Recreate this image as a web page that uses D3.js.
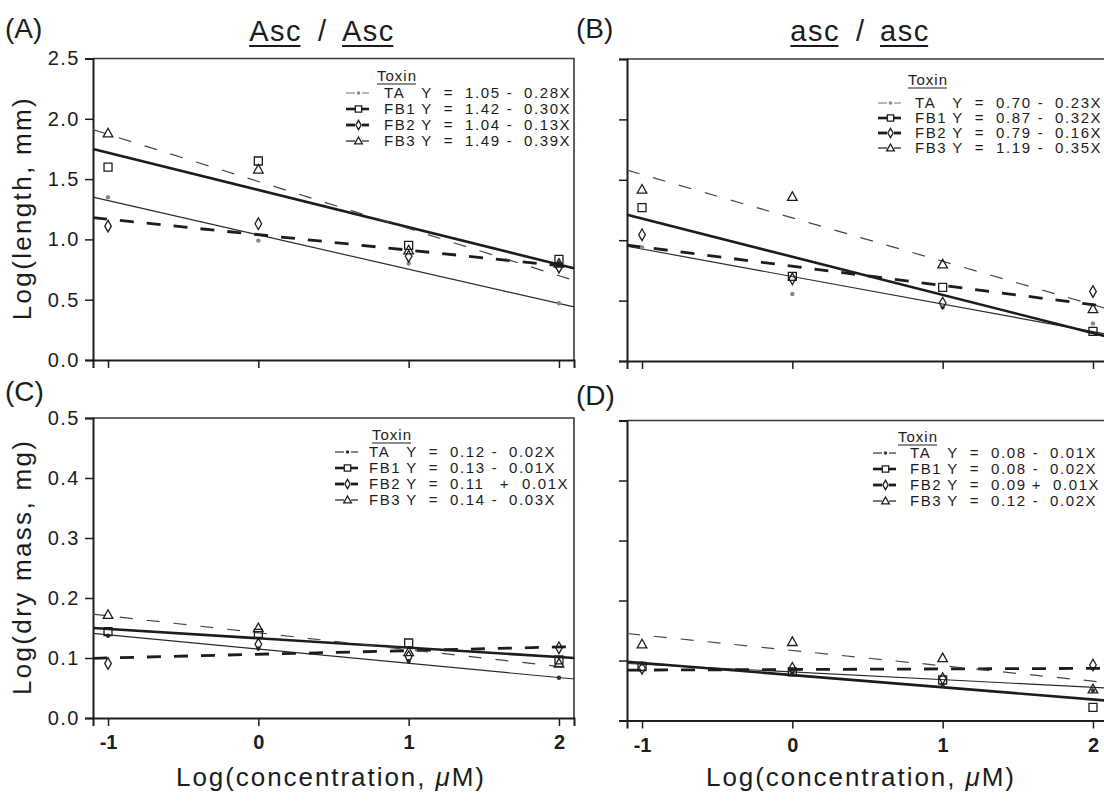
<!DOCTYPE html>
<html><head><meta charset="utf-8">
<script src="https://cdn.jsdelivr.net/npm/d3@7"></script>
<style>
html,body{margin:0;padding:0;background:#fff;}
svg{display:block;font-family:"Liberation Sans",Arial,Helvetica,sans-serif;}
</style></head><body>
<svg id="chart" width="1104" height="802"></svg>
<script>
// ---------------- DATA ----------------
const concentrations = [-1, 0, 1, 2];
const xTickLabels = ["-1", "0", "1", "2"];
const toxins = ["TA", "FB1", "FB2", "FB3"];
const panelLetters = ["(A)", "(B)", "(C)", "(D)"];
const genotypes = [["Asc", "Asc"], ["asc", "asc"]];
const lengthTicks = [0, 0.5, 1.0, 1.5, 2.0, 2.5];
const lengthTickLabels = ["0.0", "0.5", "1.0", "1.5", "2.0", "2.5"];
const massTicks = [0, 0.1, 0.2, 0.3, 0.4, 0.5];
const massTickLabels = ["0.0", "0.1", "0.2", "0.3", "0.4", "0.5"];
const yTitles = ["Log(length, mm)", "Log(dry mass, mg)"];
const xTitle = ["Log(concentration, ", "\u03BC", "M)"];

// (A) Log(length) Asc/Asc — points per toxin at concentrations
const lengthAscTA  = [1.35, 0.99, 0.80, 0.47];
const lengthAscFB1 = [1.60, 1.65, 0.95, 0.835];
const lengthAscFB2 = [1.11, 1.13, 0.86, 0.77];
const lengthAscFB3 = [1.88, 1.58, 0.91, 0.80];
// fitted line values at left / right plot edge (TA, FB1, FB2, FB3)
const lengthAscFitStart = [1.35, 1.75, 1.18, 1.91];
const lengthAscFitEnd   = [0.44, 0.76, 0.77, 0.66];
const lengthAscEquations = ["1.05 - 0.28X", "1.42 - 0.30X", "1.04 - 0.13X", "1.49 - 0.39X"];

// (B) Log(length) asc/asc
const lengthascTA  = [0.94, 0.555, 0.445, 0.31];
const lengthascFB1 = [1.27, 0.70, 0.61, 0.245];
const lengthascFB2 = [1.045, 0.68, 0.48, 0.575];
const lengthascFB3 = [1.42, 1.36, 0.80, 0.43];
const lengthascFitStart = [0.95, 1.21, 0.96, 1.58];
const lengthascFitEnd   = [0.22, 0.20, 0.45, 0.43];
const lengthascEquations = ["0.70 - 0.23X", "0.87 - 0.32X", "0.79 - 0.16X", "1.19 - 0.35X"];

// (C) Log(dry mass) Asc/Asc
const massAscTA  = [0.137, 0.116, 0.095, 0.067];
const massAscFB1 = [0.144, 0.141, 0.125, 0.097];
const massAscFB2 = [0.091, 0.123, 0.102, 0.117];
const massAscFB3 = [0.172, 0.150, 0.110, 0.091];
const massAscFitStart = [0.141, 0.150, 0.0995, 0.173];
const massAscFitEnd   = [0.065, 0.100, 0.119, 0.083];
const massAscEquations = ["0.12 - 0.02X", "0.13 - 0.01X", "0.11 + 0.01X", "0.14 - 0.03X"];

// (D) Log(dry mass) asc/asc
const massascTA  = [0.095, 0.0775, 0.059, 0.05];
const massascFB1 = [0.090, 0.081, 0.0675, 0.022];
const massascFB2 = [0.087, 0.087, 0.070, 0.0925];
const massascFB3 = [0.127, 0.131, 0.104, 0.052];
const massascFitStart = [0.095, 0.098, 0.084, 0.145];
const massascFitEnd   = [0.054, 0.033, 0.087, 0.063];
const massascEquations = ["0.08 - 0.01X", "0.08 - 0.02X", "0.09 + 0.01X", "0.12 - 0.02X"];

// ---------------- LAYOUT ----------------
const X_DOMAIN = [-1.1, 2.1];
const panels = [
  {letter: panelLetters[0], left: 93, right: 574, top: 58.5, bottom: 360, ymax: 2.5,
   ticks: lengthTicks, tickLabels: lengthTickLabels, showY: true, showX: false,
   series: [lengthAscTA, lengthAscFB1, lengthAscFB2, lengthAscFB3],
   fitStart: lengthAscFitStart, fitEnd: lengthAscFitEnd, eq: lengthAscEquations,
   leg: {sx: 346, nx: 384, y0: 93, dy: 16, tx: 377, ty: 76, plus: [133, 150]}, taColor: "#888",
   letterPos: [5, 38], title: genotypes[0], titleX: 322},
  {letter: panelLetters[1], left: 627, right: 1108, top: 59, bottom: 361, ymax: 2.5,
   ticks: lengthTicks, tickLabels: lengthTickLabels, showY: false, showX: false,
   series: [lengthascTA, lengthascFB1, lengthascFB2, lengthascFB3],
   fitStart: lengthascFitStart, fitEnd: lengthascFitEnd, eq: lengthascEquations,
   leg: {sx: 878, nx: 915, y0: 103, dy: 15, tx: 908, ty: 80, plus: [129, 145]}, taColor: "#888",
   letterPos: [576, 38], title: genotypes[1], titleX: 860},
  {letter: panelLetters[2], left: 93, right: 574, top: 418, bottom: 718, ymax: 0.5,
   ticks: massTicks, tickLabels: massTickLabels, showY: true, showX: true,
   series: [massAscTA, massAscFB1, massAscFB2, massAscFB3],
   fitStart: massAscFitStart, fitEnd: massAscFitEnd, eq: massAscEquations,
   leg: {sx: 335, nx: 369, y0: 452, dy: 16, tx: 372, ty: 435, plus: [136, 153]}, taColor: "#333",
   letterPos: [5, 401], xTitleX: 330},
  {letter: panelLetters[3], left: 627, right: 1108, top: 420.5, bottom: 720.5, ymax: 0.5,
   ticks: massTicks, tickLabels: massTickLabels, showY: false, showX: true,
   series: [massascTA, massascFB1, massascFB2, massascFB3],
   fitStart: massascFitStart, fitEnd: massascFitEnd, eq: massascEquations,
   leg: {sx: 873, nx: 910, y0: 453, dy: 16, tx: 898, ty: 437, plus: [127, 143]}, taColor: "#333",
   letterPos: [576, 405], xTitleX: 860}
];

// line style per toxin
const lineStyles = [
  {w: 1.2, dash: null, color: "#2a2a2a"},   // TA thin solid
  {w: 2.6, dash: null, color: "#1c1c1c"},   // FB1 thick solid
  {w: 2.8, dash: "14,13", color: "#1c1c1c"},// FB2 thick dashed
  {w: 1.2, dash: "13,14", color: "#444"}    // FB3 thin dashed
];
const markerPaths = {
  FB1: "M-4,-4H4V4H-4Z",
  FB2: "M0,-5.8L3.3,0L0,5.8L-3.3,0Z",
  FB3: "M0,-5L4.8,3.6L-4.8,3.6Z"
};

const svg = d3.select("#chart");
const ink = "#1c1c1c";

function drawMarker(g, t, x, y, taColor, scale) {
  scale = scale || 1;
  if (t === "TA") {
    g.append("circle").attr("cx", x).attr("cy", y).attr("r", 2.2 * scale)
      .attr("fill", taColor).attr("stroke", "none");
  } else {
    g.append("path").attr("d", markerPaths[t])
      .attr("transform", `translate(${x},${y}) scale(${scale})`)
      .attr("fill", "none").attr("stroke", ink).attr("stroke-width", 1.3 / scale);
  }
}

panels.forEach((p, pi) => {
  const x = d3.scaleLinear().domain(X_DOMAIN).range([p.left, p.right]);
  const y = d3.scaleLinear().domain([0, p.ymax]).range([p.bottom, p.top]);
  const g = svg.append("g");

  // frame (top / right)
  g.append("path")
    .attr("d", `M${p.left},${p.top}H${p.right}V${p.bottom}`)
    .attr("fill", "none").attr("stroke", "#3a3a3a").attr("stroke-width", 1.6);

  // y axis
  const yAxis = d3.axisLeft(y).tickValues(p.ticks).tickSize(8).tickPadding(5)
    .tickFormat((d, i) => p.showY ? p.tickLabels[i] : "");
  const ya = g.append("g").attr("transform", `translate(${p.left},0)`).call(yAxis);
  ya.select(".domain").attr("stroke", ink).attr("stroke-width", 2);
  ya.selectAll(".tick line").attr("stroke", ink).attr("stroke-width", 1.5);
  ya.selectAll(".tick text").attr("font-size", 20).attr("fill", ink)
    .attr("letter-spacing", 1.5).attr("font-family", "Liberation Sans, Arial, sans-serif");

  // x axis
  const xAxis = d3.axisBottom(x).tickValues(concentrations).tickSize(8).tickPadding(9)
    .tickFormat((d, i) => p.showX ? xTickLabels[i] : "");
  const xa = g.append("g").attr("transform", `translate(0,${p.bottom})`).call(xAxis);
  xa.select(".domain").attr("stroke", ink).attr("stroke-width", 2);
  xa.selectAll(".tick line").attr("stroke", ink).attr("stroke-width", 1.5);
  xa.selectAll(".tick text").attr("font-size", 20).attr("fill", ink).attr("font-weight", "bold")
    .attr("font-family", "Liberation Sans, Arial, sans-serif");

  // fitted lines
  toxins.forEach((t, ti) => {
    const st = lineStyles[ti];
    const pts = [[X_DOMAIN[0], p.fitStart[ti]], [X_DOMAIN[1], p.fitEnd[ti]]];
    g.append("path")
      .attr("d", d3.line().x(d => x(d[0])).y(d => y(d[1]))(pts))
      .attr("fill", "none").attr("stroke", st.color).attr("stroke-width", st.w)
      .attr("stroke-dasharray", st.dash);
  });

  // points
  toxins.forEach((t, ti) => {
    p.series[ti].forEach((v, i) => {
      drawMarker(g, t, x(concentrations[i]), y(v), p.taColor);
    });
  });

  // legend
  const L = p.leg;
  const tox = g.append("text").attr("x", L.tx).attr("y", L.ty + 5)
    .attr("font-size", 15).attr("letter-spacing", 1).attr("fill", ink).text("Toxin");
  const tw = tox.node().getComputedTextLength();
  g.append("line").attr("x1", L.tx).attr("x2", L.tx + tw - 1)
    .attr("y1", L.ty + 8).attr("y2", L.ty + 8).attr("stroke", ink).attr("stroke-width", 1.2);

  toxins.forEach((t, ti) => {
    const cy = L.y0 + ti * L.dy;
    const st = lineStyles[ti];
    const lc = ti === 0 ? p.taColor : ink;
    g.append("line").attr("x1", L.sx).attr("x2", L.sx + 9).attr("y1", cy).attr("y2", cy)
      .attr("stroke", lc).attr("stroke-width", st.w);
    g.append("line").attr("x1", L.sx + 16).attr("x2", L.sx + 23).attr("y1", cy).attr("y2", cy)
      .attr("stroke", lc).attr("stroke-width", st.w);
    drawMarker(g, t, L.sx + 12.5, cy, p.taColor, 0.8);

    const parts = p.eq[ti].split(" ");
    const by = cy + 5.3;
    const txt = (xx, s, anchor) => g.append("text").attr("x", xx).attr("y", by)
      .attr("font-size", 15).attr("letter-spacing", 1.6).attr("fill", ink)
      .attr("text-anchor", anchor || "start").text(s);
    txt(L.nx, t);
    txt(L.nx + 43, "Y", "middle");
    txt(L.nx + 65, "=", "middle");
    txt(L.nx + 81, parts[0]);
    if (parts[1] === "+") {
      txt(L.nx + L.plus[0], "+", "middle");
      txt(L.nx + L.plus[1], parts[2]);
    } else {
      txt(L.nx + 126, "-", "middle");
      txt(L.nx + 140, parts[2]);
    }
  });

  // panel letter
  svg.append("text").attr("x", p.letterPos[0]).attr("y", p.letterPos[1])
    .attr("font-size", 28).attr("fill", ink).text(p.letter);

  // genotype title
  if (p.title) {
    const t1 = svg.append("text").attr("x", p.titleX - 20).attr("y", 41)
      .attr("font-size", 29).attr("letter-spacing", 1.5).attr("text-anchor", "end")
      .attr("fill", ink).text(p.title[0]);
    svg.append("text").attr("x", p.titleX).attr("y", 41)
      .attr("font-size", 29).attr("text-anchor", "middle").attr("fill", ink).text("/");
    const t2 = svg.append("text").attr("x", p.titleX + 20).attr("y", 41)
      .attr("font-size", 29).attr("letter-spacing", 1.5).attr("fill", ink).text(p.title[1]);
    [t1, t2].forEach(t => {
      const b = t.node().getBBox();
      svg.append("line").attr("x1", b.x).attr("x2", b.x + b.width - 1.5)
        .attr("y1", 46).attr("y2", 46).attr("stroke", ink).attr("stroke-width", 1.8);
    });
  }

  // x-axis title
  if (p.showX) {
    const xt = svg.append("text").attr("x", p.xTitleX).attr("y", 786)
      .attr("font-size", 26).attr("text-anchor", "middle").attr("fill", ink)
      .attr("textLength", 308).attr("lengthAdjust", "spacing");
    xt.append("tspan").text(xTitle[0]);
    xt.append("tspan").attr("font-style", "italic").text(xTitle[1]);
    xt.append("tspan").text(xTitle[2]);
  }

  // y-axis title
  if (p.showY) {
    const cy = (p.top + p.bottom) / 2;
    svg.append("text").attr("transform", `translate(31,${cy}) rotate(-90)`)
      .attr("font-size", 26).attr("text-anchor", "middle").attr("fill", ink)
      .attr("textLength", pi === 0 ? 222 : 254).attr("lengthAdjust", "spacing")
      .text(pi === 0 ? yTitles[0] : yTitles[1]);
  }
});
</script>
</body></html>
